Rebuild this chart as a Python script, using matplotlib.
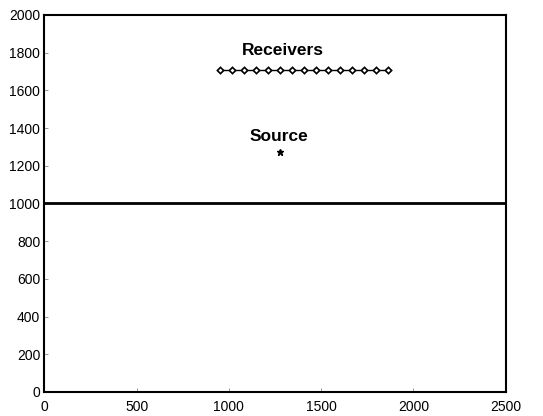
import matplotlib

matplotlib.use("Agg")
import matplotlib.pyplot as plt

# receptores (15, espaciado ~65 m) y fuente
receiver_x = [950, 1015, 1080, 1145, 1210, 1275, 1340, 1405, 1470, 1535, 1600, 1665, 1730, 1795, 1860]
receiver_y = [1710] * len(receiver_x)
source_x = [1275]
source_y = [1275]
interface_x = [0, 2500]
interface_y = [1000, 1000]

xticks = [0, 500, 1000, 1500, 2000, 2500]
yticks = [0, 200, 400, 600, 800, 1000, 1200, 1400, 1600, 1800, 2000]

plt.rcParams["font.family"] = ["Liberation Sans", "DejaVu Sans"]

fig = plt.figure(figsize=(5.43, 4.16), dpi=100)
ax = fig.add_axes((0.0816, 0.0577, 0.8497, 0.9063))

ax.plot(interface_x, interface_y, color="black", lw=2.0)
ax.plot(receiver_x, receiver_y, color="black", lw=1.0, marker="D", ms=3.2,
        mfc="white", mec="black", mew=1.2)
ax.plot(source_x, source_y, color="black", ls="none", marker="*", ms=5)

ax.text(1293, 1814, "Receivers", ha="center", va="center", fontsize=12.5, fontweight="bold")
ax.text(1271, 1354, "Source", ha="center", va="center", fontsize=12.5, fontweight="bold")

ax.set_xlim(0, 2500)
ax.set_ylim(0, 2000)
ax.set_xticks(xticks)
ax.set_yticks(yticks)
ax.tick_params(direction="in", length=3, width=0.6, color="#888888", labelsize=10)
ax.tick_params(axis="x", pad=6)
ax.tick_params(axis="y", pad=3)
for s in ax.spines.values():
    s.set_linewidth(1.5)

fig.savefig("out.png", dpi=100)
